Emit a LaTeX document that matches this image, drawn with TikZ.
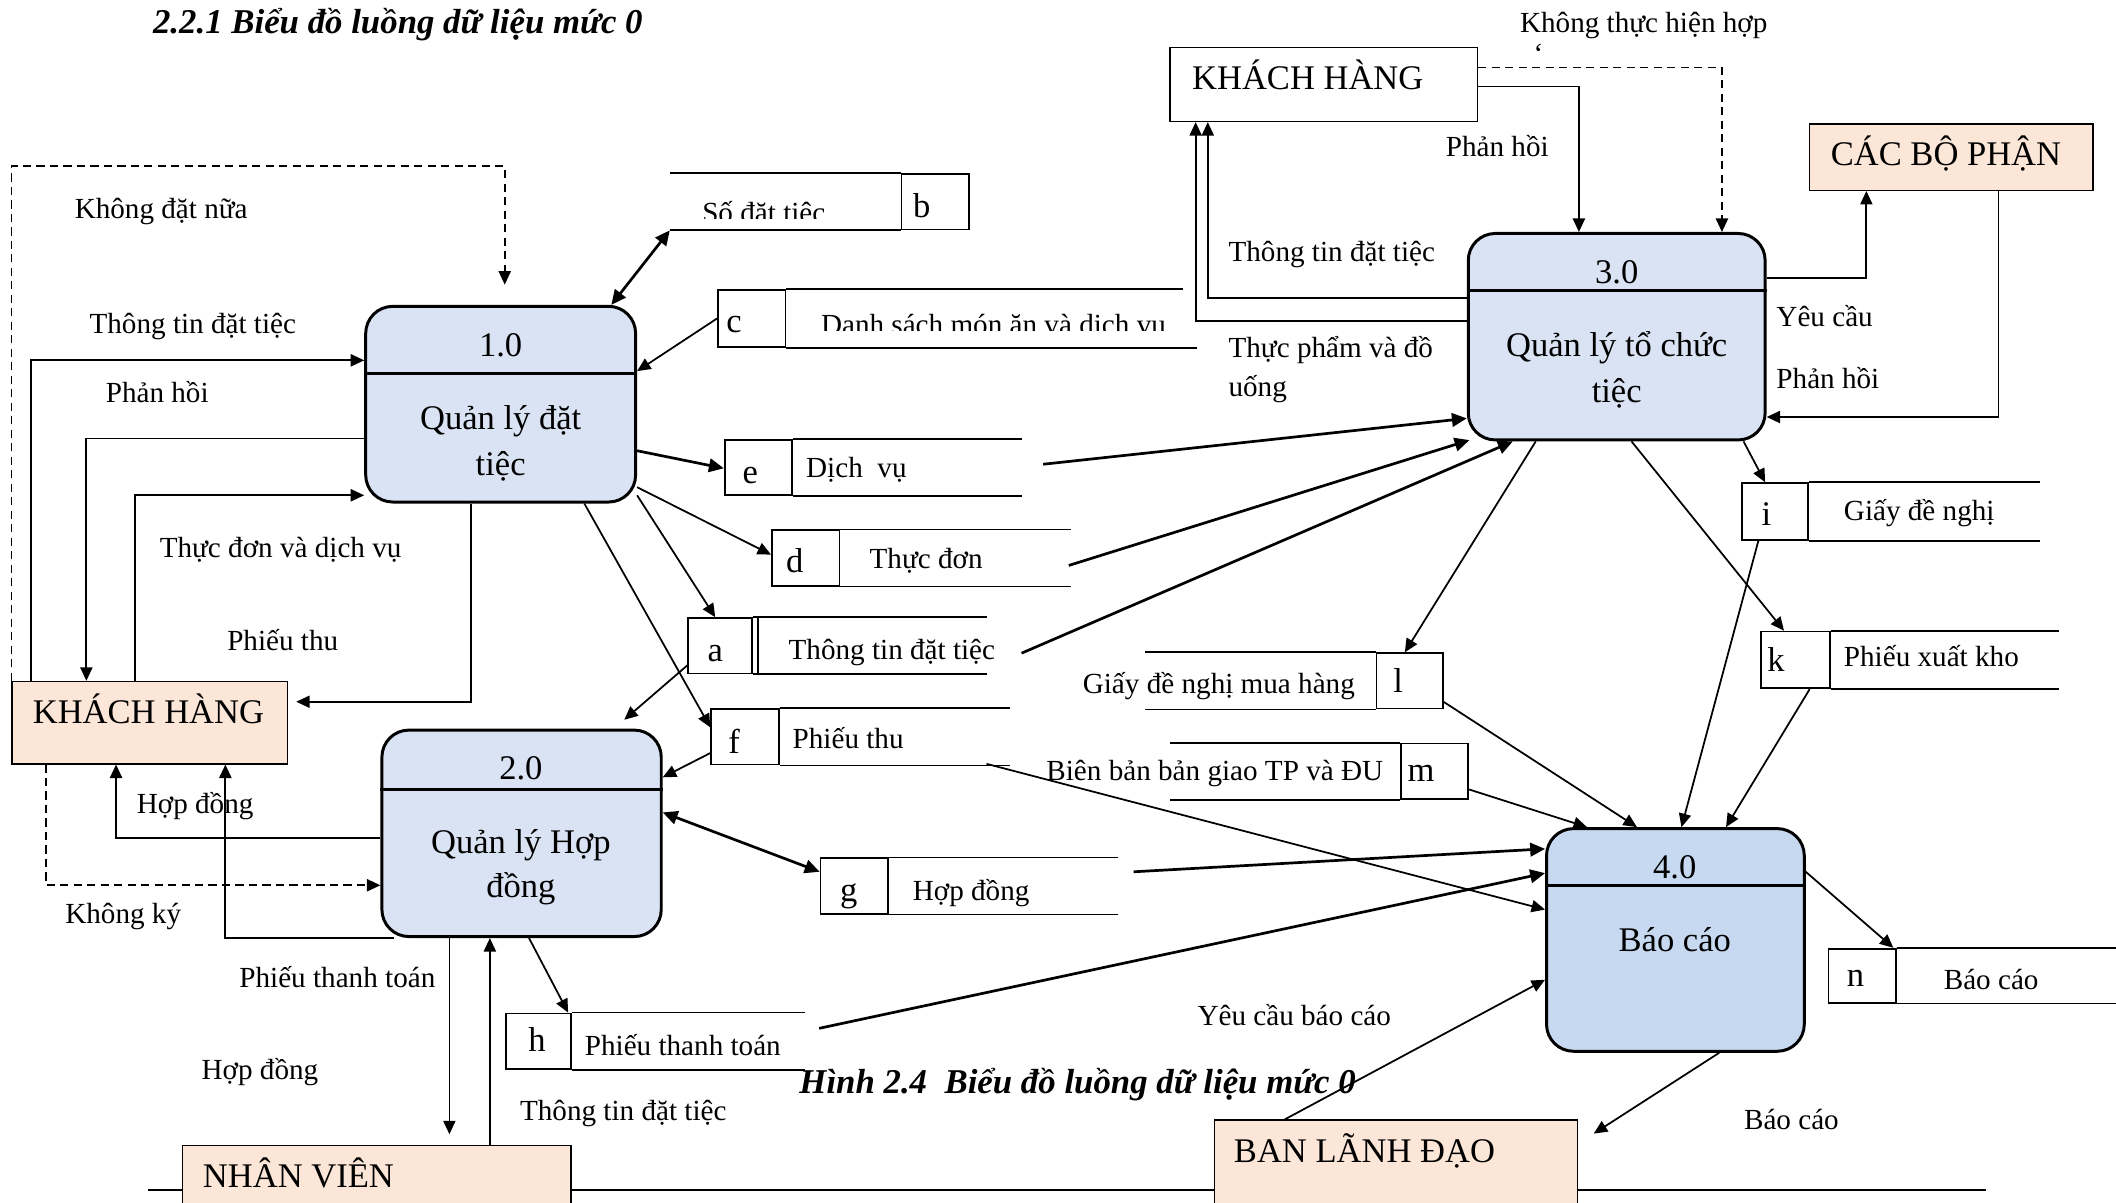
\documentclass[tikz,border=0pt]{standalone}
\usepackage{fontspec}
\setmainfont{Liberation Serif}
\usetikzlibrary{arrows.meta,calc}

\definecolor{procfill}{HTML}{DAE3F3}
\definecolor{repfill}{HTML}{C6D9F1}
\definecolor{extfill}{HTML}{FCE6D8}

\newcommand\lblsize{\fontsize{10.8pt}{13pt}\selectfont}
\newcommand\boxsize{\fontsize{12.8pt}{15pt}\selectfont}
\newcommand\headsize{\fontsize{12.9pt}{15pt}\selectfont\bfseries\itshape}

\tikzset{
  proc/.style={draw, line width=1.1pt, rounded corners=10pt, fill=procfill, inner sep=0pt},
  ext/.style={draw, line width=0.5pt, fill=extfill, inner sep=0pt},
  cell/.style={draw, line width=0.65pt, inner sep=0pt, minimum width=25pt, minimum height=20.5pt},
  sline/.style={line width=0.65pt},
  divider/.style={line width=1.1pt},
  lbl/.style={font=\lblsize, inner sep=0pt, text height=8.1pt, text depth=1.1pt, anchor=west},
  ptext/.style={font=\boxsize, inner sep=0pt, text height=9.6pt, text depth=1.3pt},
  sid/.style={ptext, anchor=center},
  head/.style={font=\headsize, inner sep=0pt, anchor=west},
  flow/.style={line width=0.65pt, -{Triangle[length=5pt,width=4.5pt]}},
  flowT/.style={line width=1pt, -{Triangle[length=5.5pt,width=5pt]}},
  twoway/.style={{Triangle[length=5.5pt,width=5pt]}-{Triangle[length=5.5pt,width=5pt]}},
  dashedline/.style={dash pattern=on 3pt off 2pt},
}

\begin{document}
\begin{tikzpicture}[x=0.5pt, y=-0.5pt]
\useasboundingbox (0,0) rectangle (1568,891);
\clip (0,0) rectangle (1568,891);

% ---- headings ----
\node[head] (title) at (113,18) {2.2.1 Biểu đồ luồng dữ liệu mức 0};
\node[head] (caption) at (592,804) {Hình 2.4~ Biểu đồ luồng dữ liệu mức 0};

% ---- page rule behind the bottom entities ----
\draw[sline] (110,882) -- (1472,882);

% ---- processes ----
\node[proc, minimum width=100pt, minimum height=72.5pt] (p1) at (371,299.5) {};
\draw[divider] (p1.west |- 0,277) -- (p1.east |- 0,277);
\node[ptext] at (371,256) {1.0};
\node[ptext] at (371,310) {Quản lý đặt};
\node[ptext] at (371,344) {tiệc};

\node[proc, minimum width=103.5pt, minimum height=76.5pt] (p2) at (386.5,617.5) {};
\draw[divider] (p2.west |- 0,585) -- (p2.east |- 0,585);
\node[ptext] at (386,569) {2.0};
\node[ptext] at (386,624) {Quản lý Hợp};
\node[ptext] at (386,657) {đồng};

\node[proc, minimum width=110pt, minimum height=76.5pt] (p3) at (1198,249.5) {};
\draw[divider] (p3.west |- 0,215) -- (p3.east |- 0,215);
\node[ptext] at (1198,202) {3.0};
\node[ptext] at (1198,256) {Quản lý tổ chức};
\node[ptext] at (1198,290) {tiệc};

\node[proc, fill=repfill, minimum width=95.5pt, minimum height=82.5pt] (p4) at (1241.5,696.5) {};
\draw[divider] (p4.west |- 0,656) -- (p4.east |- 0,656);
\node[ptext] at (1241,643) {4.0};
\node[ptext] at (1241,697) {Báo cáo};

% ---- external entities ----
\node[ext, fill=white, minimum width=114pt, minimum height=27.5pt] (kh2) at (981,62.5) {};
\node[ptext, anchor=west] at (883,58) {KHÁCH HÀNG};
\node[ext, minimum width=105pt, minimum height=24.5pt] (cbp) at (1446,116.5) {};
\node[ptext] at (1442,114) {CÁC BỘ PHẬN};
\node[ext, minimum width=102pt, minimum height=30.5pt] (kh1) at (111,535.5) {};
\node[ptext] at (110,528) {KHÁCH HÀNG};
\node[ext, minimum width=144pt, minimum height=30pt] (nv) at (279,879) {};
\node[ptext, anchor=west] at (150,872) {NHÂN VIÊN};
\node[ext, minimum width=134.5pt, minimum height=35pt] (bld) at (1034.5,865) {};
\node[ptext, anchor=west] at (914,853) {BAN LÃNH ĐẠO};

% ---- data stores ----
% b: Số đặt tiệc (id on the right)
\node[cell] (sb) at (693,149.5) {};
\draw[sline] (sb.north west) -- ++(-171,0) coordinate (sb-top);
\draw[sline] (sb.south west) -- ++(-171,0) coordinate (sb-bot);
\node[sid] at (683,153) {b};
\begin{scope}
  \clip (490,120) rectangle (667,162);
  \node[lbl] at (520,158) {Số đặt tiệc};
\end{scope}

% c: Danh sách món ăn và dịch vụ
\node[cell, minimum height=21pt] (sc) at (557,236) {};
\draw[sline] (sc.north east) -- ++(294,0) coordinate (sc-top);
\draw[sline] (sc.south east) -- ++(304,0) coordinate (sc-bot);
\node[sid] at (544,238) {c};
\begin{scope}
  \clip (583,218) rectangle (900,245);
  \node[lbl] at (608,241) {Danh sách món ăn và dịch vụ};
\end{scope}

% e: Dịch vụ
\node[cell] (se) at (562,346.5) {};
\draw[sline] (se.north east) -- ++(170,0) coordinate (se-top);
\draw[sline] (se.south east) -- ++(170,0) coordinate (se-bot);
\node[sid] at (556,350) {e};
\node[lbl] at (597,347) {Dịch~ vụ};

% d: Thực đơn
\node[cell] (sd) at (597,413.5) {};
\draw[sline] (sd.north east) -- ++(171,0) coordinate (sd-top);
\draw[sline] (sd.south east) -- ++(171,0) coordinate (sd-bot);
\node[sid] at (589,416) {d};
\node[lbl] at (644,414) {Thực đơn};

% a: Thông tin đặt tiệc (double divider)
\node[cell, minimum width=23.5pt] (sa) at (533.5,478.5) {};
\draw[sline] ([xshift=2pt]sa.north east) -- ([xshift=2pt]sa.south east);
\draw[sline] (sa.north east) -- ++(174,0) coordinate (sa-top);
\draw[sline] (sa.south east) -- ++(174,0) coordinate (sa-bot);
\node[sid] at (530,482) {a};
\node[lbl] at (584,482) {Thông tin đặt tiệc};

% f: Phiếu thu
\node[cell] (sf) at (552,546) {};
\draw[sline] (sf.north east) -- ++(171,0) coordinate (sf-top);
\draw[sline] (sf.south east) -- ++(171,0) coordinate (sf-bot);
\node[sid] at (544,550) {f};
\node[lbl] at (587,548) {Phiếu thu};

% g: Hợp đồng
\node[cell] (sg) at (633,656.5) {};
\draw[sline] (sg.north east) -- ++(170,0) coordinate (sg-top);
\draw[sline] (sg.south east) -- ++(170,0) coordinate (sg-bot);
\node[sid] at (629,660) {g};
\node[lbl] at (676,660) {Hợp đồng};

% h: Phiếu thanh toán
\node[cell, minimum width=24pt] (sh) at (399,771.5) {};
\draw[sline] (sh.north east) -- ++(173,0) coordinate (sh-top);
\draw[sline] (sh.south east) -- ++(173,0) coordinate (sh-bot);
\node[sid] at (398,771) {h};
\node[lbl] at (433,775) {Phiếu thanh toán};

% i: Giấy đề nghị
\node[cell, minimum width=24.5pt, minimum height=21pt] (si) at (1315.5,379) {};
\draw[sline] (si.north east) -- ++(171,0) coordinate (si-top);
\draw[sline] (si.south east) -- ++(171,0) coordinate (si-bot);
\node[sid] at (1309,381) {i};
\node[lbl] at (1366,379) {Giấy đề nghị};

% k: Phiếu xuất kho
\node[cell, minimum width=25.5pt, minimum height=21pt] (sk) at (1330.5,489) {};
\draw[sline] (sk.north east) -- ++(169,0) coordinate (sk-top);
\draw[sline] (sk.south east) -- ++(169,0) coordinate (sk-bot);
\node[sid] at (1316,489) {k};
\node[lbl] at (1366,487) {Phiếu xuất kho};

% l: Giấy đề nghị mua hàng (id on the right)
\node[cell, minimum width=24.5pt] (sl) at (1044.5,504.5) {};
\draw[sline] (sl.north west) -- ++(-171,0) coordinate (sl-top);
\draw[sline] (sl.south west) -- ++(-171,0) coordinate (sl-bot);
\node[sid] at (1036,505) {l};
\node[lbl] at (802,507) {Giấy đề nghị mua hàng};

% m: Biên bản bản giao TP và ĐU (id on the right)
\node[cell] (sm) at (1063,571.5) {};
\draw[sline] (sm.north west) -- ++(-170,0) coordinate (sm-top);
\draw[sline] (sm.south west) -- ++(-170,0) coordinate (sm-bot);
\node[sid] at (1053,571) {m};
\node[lbl] at (775,571) {Biên bản bản giao TP và ĐU};

% n: Báo cáo
\node[cell, minimum height=20pt] (sn) at (1380,723) {};
\draw[sline] (sn.north east) -- ++(200,0) coordinate (sn-top);
\draw[sline] (sn.south east) -- ++(200,0) coordinate (sn-bot);
\node[sid] at (1375,723) {n};
\node[lbl] at (1440,726) {Báo cáo};

% ---- free ends of flows leaving store lines ----
\coordinate (eout) at (773,344);
\coordinate (dout) at (792,419);
\coordinate (aout) at (757,484);
\coordinate (fout) at (731,566);
\coordinate (gout) at (840,646);
\coordinate (hout) at (607,762);
\coordinate (bldin) at (1181,840);

% ---- flows around KHÁCH HÀNG (left) and process 1.0 ----
\draw[flow, dashedline] (kh1.north west) |- (374,123) -- ($(p1.north)+(3,-15)$);
\draw[flow] (kh1.north -| 23,0) |- (p1.west |- 0,267);
\draw[flow] (p1.west |- 0,325) -| (kh1.north -| 64,0);
\draw[flow] (kh1.north -| 100,0) |- (p1.west |- 0,367);
\draw[flow, shorten >=3pt] (p1.south -| 349,0) |- (kh1.east |- 0,520);

\node[lbl] at (55,155) {Không đặt nữa};
\node[lbl] at (66,240) {Thông tin đặt tiệc};
\node[lbl] at (78,291) {Phản hồi};
\node[lbl] at (118,406) {Thực đơn và dịch vụ};
\node[lbl] at (168,475) {Phiếu thu};

% ---- flows around process 2.0 ----
\draw[flow] (p2.west |- 0,621) -| (kh1.south -| 86,0);
\draw[flow] (p2.south -| 292,0) -| (kh1.south -| 167,0);
\draw[flow, dashedline] (kh1.south -| 34,0) |- (p2.west |- 0,656);
\draw[flow, shorten >=4pt] (p2.south -| 333,0) -- (nv.north -| 333,0);
\draw[flow] (nv.north -| 363,0) -- (p2.south -| 363,0);

\node[lbl] at (101,596) {Hợp đồng};
\node[lbl] at (48,677) {Không ký};
\node[lbl] at (177,725) {Phiếu thanh toán};
\node[lbl] at (149,793) {Hợp đồng};
\node[lbl] at (385,823) {Thông tin đặt tiệc};

% ---- process 1.0 and its stores ----
\draw[flowT, twoway] (p1.north -| 453,0) -- (sb-bot);
\draw[flow] (sc.west) -- (p1.east |- 0,275);
\draw[flowT] (p1.east |- 0,334) -- (se.west |- 0,347);
\draw[flow] (p1.east |- 0,361) -- (sd.west |- 0,411);
\draw[flow] (p1.east |- 0,367) -- (sa.north -| 530,0);
\draw[flow] (p1.south -| 433,0) -- (sf.west |- 0,539);

% ---- stores feeding process 2.0 ----
\draw[flow, shorten >=5pt] (sa.west |- 0,493) -- (p2.north -| 455,0);
\draw[flow] (sf.west |- 0,558) -- (p2.east |- 0,576);
\draw[flowT, twoway] (p2.east |- 0,602) -- (sg.west |- 0,646);
\draw[flow] (p2.south -| 392,0) -- (sh.north -| 421,0);

% ---- process 3.0 ----
\draw[flowT] (eout) -- (p3.west |- 0,310);
\draw[flowT] (dout) -- ($(p3.south west)+(2,-1)$);
\draw[flowT] (aout) -- (p3.south -| 1121,0);
\draw[flow] (p3.west |- 0,221) -| (kh2.south -| 895,0);
\draw[flow] (p3.west |- 0,238) -| (kh2.south -| 886,0);
\draw[flow] (kh2.east |- 0,64) -| (p3.north -| 1170,0);
\draw[flow, dashedline] (kh2.east |- 0,50) -| (p3.north -| 1276,0);
\draw[flow] (p3.east |- 0,206) -| (cbp.south -| 1383,0);
\draw[flow] (cbp.south -| 1481,0) |- (p3.east |- 0,309);
\draw[flow] (p3.south -| 1292,0) -- (si.north -| 1308,0);
\draw[flow] (p3.south -| 1209,0) -- (sk.north -| 1322,0);
\draw[flow] (p3.south -| 1138,0) -- (sl.north -| 1041,0);

\node[lbl] at (1126,17) {Không thực hiện hợp};
\node[lbl, anchor=center] at (1140,40) {\symbol{"60}};
\node[lbl] at (1071,109) {Phản hồi};
\node[lbl] at (910,187) {Thông tin đặt tiệc};
\node[lbl] at (910,258) {Thực phẩm và đồ};
\node[lbl] at (910,287) {uống};
\node[lbl] at (1316,235) {Yêu cầu};
\node[lbl] at (1316,281) {Phản hồi};

% ---- process 4.0 ----
\draw[flow] (si.south -| 1303,0) -- (p4.north -| 1246,0);
\draw[flow] (sk.south -| 1341,0) -- (p4.north -| 1279,0);
\draw[flow] (sl.east |- 0,520) -- (p4.north -| 1213,0);
\draw[flow] (sm.east |- 0,585) -- (p4.north -| 1176,0);
\draw[flow] (fout) -- (p4.west |- 0,674);
\draw[flowT] (gout) -- (p4.west |- 0,629);
\draw[flowT] (hout) -- (p4.west |- 0,647);
\draw[flow] (bld.north -| 952,0) -- (p4.west |- 0,726);
\draw[flow] (p4.south -| 1274,0) -- (bldin);
\draw[flow] (p4.east |- 0,646) -- (sn.north -| 1403,0);

\node[lbl] at (887,753) {Yêu cầu báo cáo};
\node[lbl] at (1292,830) {Báo cáo};
\end{tikzpicture}
\end{document}
